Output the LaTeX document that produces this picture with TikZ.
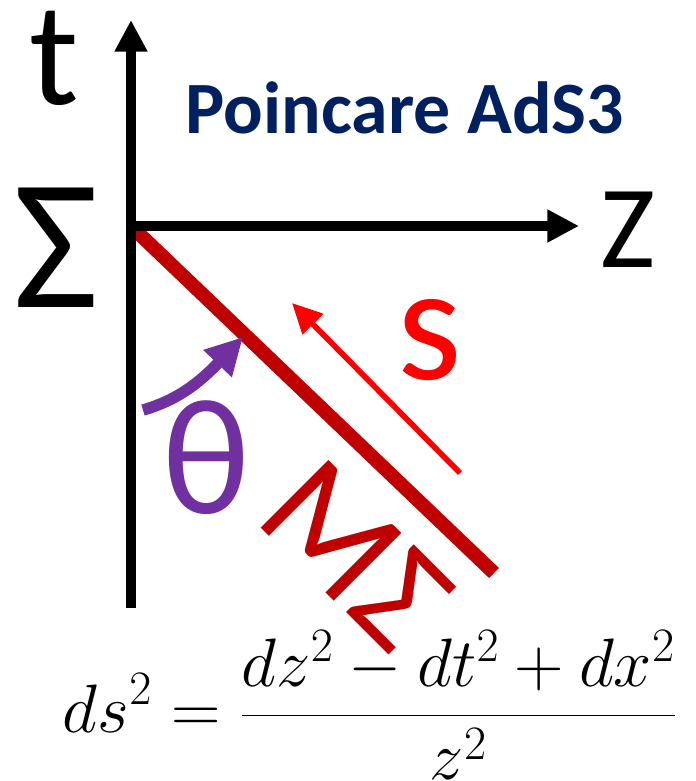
\RequirePackage{fix-cm}
\documentclass[tikz,border=0pt]{standalone}
\usepackage{fontspec}
\setmainfont{Carlito}
\usepackage{amsmath}
\usetikzlibrary{arrows.meta}

\definecolor{axisred}{HTML}{C00000}
\definecolor{flowred}{HTML}{FF0000}
\definecolor{anglepurple}{HTML}{7030A0}
\definecolor{titleblue}{HTML}{002060}

\tikzset{
    axisline/.style={line width=5.7pt, -{Triangle[length=18pt, width=17.6pt]}},
    bigtext/.style={inner sep=0pt, font=\fontsize{#1}{#1}\selectfont},
}

\begin{document}
\begin{tikzpicture}[x=0.02cm, y=-0.02cm]
                \useasboundingbox (0,0) rectangle (696,781);

                % Points
                \coordinate (O) at (131,226);
                \coordinate (tbot) at (131,608);
                \coordinate (ttip) at (131,20);
                \coordinate (ztip) at (579,226);
                \coordinate (mend) at (494,573);
                \coordinate (sfrom) at (460,473);
                \coordinate (sto) at (292,303);
                \coordinate (thfrom) at (143,410);
                \coordinate (thto) at (243,337);

                % Boundary line (under the axes)
                \draw[axisred, line width=8pt] (O) -- (mend);

                % Axes
                \draw[axisline] (tbot) -- (ttip);
                \draw[axisline] (O) -- (ztip);

                % Arrows along the line and for the angle
                \draw[flowred, line width=3.2pt, -{Triangle[length=17pt, width=16pt]}] (sfrom) -- (sto);
                \draw[anglepurple, line width=6.5pt, -{Triangle[length=21pt, width=21pt]}]
                    (thfrom) .. controls (178,400) and (200,382) .. (thto);

                % Axis labels (large font)
                \node[bigtext=84] (tlabel) at (54,58) {t};
                \node[bigtext=106] (sigma) at (56,248) {Σ};
                \node[bigtext=67] (zlabel) at (628,230) {Z};

                % Title
                \node[inner sep=0pt, font=\fontsize{42}{42}\selectfont\bfseries, text=titleblue] (title) at (405,108) {Poincare AdS3};

                % Labels of the arrows and the line
                \node[bigtext=94, text=flowred] (slabel) at (430,340) {s};
                \node[bigtext=94, text=anglepurple] (theta) at (206,458) {θ};
                \node[bigtext=85, text=axisred, rotate=-45] (msigma) at (356,555) {MΣ};

                % Metric
                \node[bigtext=39] (metric) at (370,705) {$\displaystyle ds^2 = \frac{dz^2 - dt^2 + dx^2}{z^2}$};
            \end{tikzpicture}
\end{document}
